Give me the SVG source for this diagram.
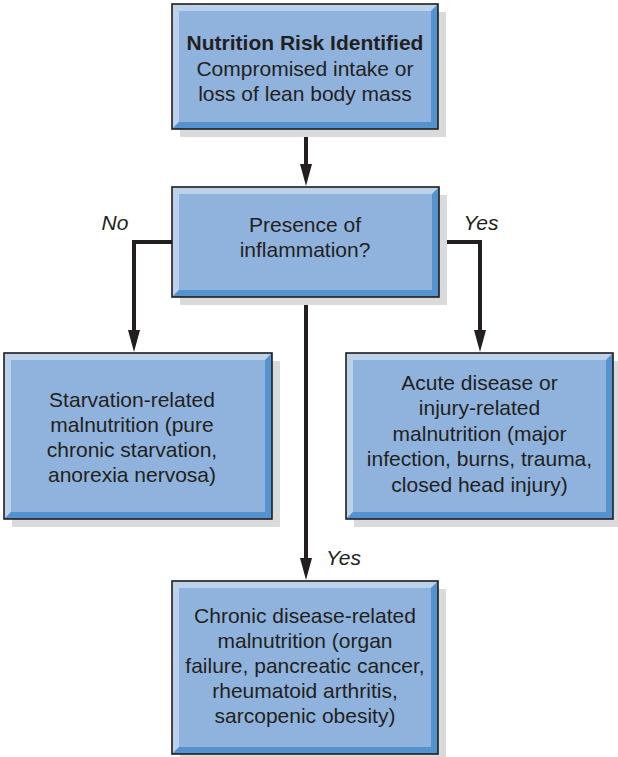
<svg xmlns="http://www.w3.org/2000/svg" width="618" height="757" viewBox="0 0 618 757">
  <defs>
    <style>
      .shadow { fill: #dadada; }
      .face { fill: #8fb3dc; }
      .hi { fill: #bcd2eb; }
      .lo { fill: #5593cf; }
      .frame { fill: none; stroke: #1e1c1d; stroke-width: 1.6; }
      .txt { font-family: "Liberation Sans", Arial, sans-serif; font-size: 21px; fill: #231f20; text-anchor: middle; }
      .bold { font-weight: bold; }
      .lbl { font-family: "Liberation Sans", Arial, sans-serif; font-size: 21px; font-style: italic; fill: #231f20; }
      .wire { fill: none; stroke: #231f20; stroke-width: 4; }
    </style>
    <marker id="head" viewBox="0 0 22 12" refX="6" refY="6" markerWidth="22" markerHeight="12" markerUnits="userSpaceOnUse" orient="auto">
      <path d="M0,0 L22,6 L0,12 z" fill="#231f20"/>
    </marker>
  </defs>

  <rect width="618" height="757" fill="#ffffff"/>

  <!-- connectors -->
  <g id="connectors">
    <path class="wire" d="M306,129 V170" marker-end="url(#head)"/>
    <path class="wire" d="M172,242 H134 V336" marker-end="url(#head)"/>
    <path class="wire" d="M439,242 H480 V336" marker-end="url(#head)"/>
    <path class="wire" d="M306,297 V564" marker-end="url(#head)"/>
    <text class="lbl" x="115" y="230" text-anchor="middle">No</text>
    <text class="lbl" x="481" y="230" text-anchor="middle">Yes</text>
    <text class="lbl" x="326" y="565">Yes</text>
  </g>

  <!-- risk identified -->
  <g id="risk">
    <rect class="shadow" x="180" y="12" width="266" height="125"/>
    <rect class="face" x="172" y="4" width="266" height="125"/>
    <polygon class="hi" points="172,4 438,4 431,11 179,11 179,122 172,129"/>
    <polygon class="lo" points="438,4 438,129 172,129 179,122 431,122 431,11"/>
    <rect class="frame" x="172" y="4" width="266" height="125"/>
    <text class="txt" x="305" y="50"><tspan class="bold">Nutrition Risk Identified</tspan><tspan x="305" dy="25.5">Compromised intake or</tspan><tspan x="305" dy="25.5">loss of lean body mass</tspan></text>
  </g>

  <!-- inflammation question -->
  <g id="question">
    <rect class="shadow" x="180" y="195" width="267" height="110"/>
    <rect class="face" x="172" y="187" width="267" height="110"/>
    <polygon class="hi" points="172,187 439,187 432,194 179,194 179,290 172,297"/>
    <polygon class="lo" points="439,187 439,297 172,297 179,290 432,290 432,194"/>
    <rect class="frame" x="172" y="187" width="267" height="110"/>
    <text class="txt" x="305" y="232">Presence of<tspan x="305" dy="24.5">inflammation?</tspan></text>
  </g>

  <!-- starvation-related -->
  <g id="starvation">
    <rect class="shadow" x="12" y="361" width="268" height="166"/>
    <rect class="face" x="4" y="353" width="268" height="166"/>
    <polygon class="hi" points="4,353 272,353 265,360 11,360 11,512 4,519"/>
    <polygon class="lo" points="272,353 272,519 4,519 11,512 265,512 265,360"/>
    <rect class="frame" x="4" y="353" width="268" height="166"/>
    <text class="txt" x="132" y="407">Starvation-related<tspan x="132" dy="25">malnutrition (pure</tspan><tspan x="132" dy="25">chronic starvation,</tspan><tspan x="132" dy="25">anorexia nervosa)</tspan></text>
  </g>

  <!-- acute disease -->
  <g id="acute">
    <rect class="shadow" x="354" y="361" width="267" height="166"/>
    <rect class="face" x="346" y="353" width="267" height="166"/>
    <polygon class="hi" points="346,353 613,353 606,360 353,360 353,512 346,519"/>
    <polygon class="lo" points="613,353 613,519 346,519 353,512 606,512 606,360"/>
    <rect class="frame" x="346" y="353" width="267" height="166"/>
    <text class="txt" x="479.5" y="390">Acute disease or<tspan x="479.5" dy="25.4">injury-related</tspan><tspan x="479.5" dy="25.4">malnutrition (major</tspan><tspan x="479.5" dy="25.4">infection, burns, trauma,</tspan><tspan x="479.5" dy="25.4">closed head injury)</tspan></text>
  </g>

  <!-- chronic disease -->
  <g id="chronic">
    <rect class="shadow" x="180" y="589" width="266" height="173"/>
    <rect class="face" x="172" y="581" width="266" height="173"/>
    <polygon class="hi" points="172,581 438,581 431,588 179,588 179,747 172,754"/>
    <polygon class="lo" points="438,581 438,754 172,754 179,747 431,747 431,588"/>
    <rect class="frame" x="172" y="581" width="266" height="173"/>
    <text class="txt" x="305" y="623">Chronic disease-related<tspan x="305" dy="25">malnutrition (organ</tspan><tspan x="305" dy="25">failure, pancreatic cancer,</tspan><tspan x="305" dy="25">rheumatoid arthritis,</tspan><tspan x="305" dy="25">sarcopenic obesity)</tspan></text>
  </g>
</svg>
